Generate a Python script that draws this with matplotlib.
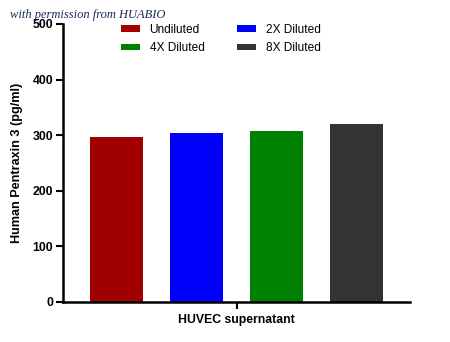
import matplotlib
matplotlib.use("Agg")
import matplotlib.pyplot as plt
from matplotlib.patches import Patch

plt.rcParams['font.family'] = ['Liberation Sans', 'DejaVu Sans']

groups = ["Undiluted", "2X Diluted", "4X Diluted", "8X Diluted"]
values = [297, 304, 307, 320]
colors = ["#a00000", "#0000ff", "#008000", "#333333"]
y_ticks = [0, 100, 200, 300, 400, 500]
x_label = "HUVEC supernatant"
y_label = "Human Pentraxin 3 (pg/ml)"

fig = plt.figure(figsize=(4.5, 3.42), dpi=100)
ax = fig.add_axes([63/450, 1 - 302/342, (410-63)/450, (302-24)/342])

pos = list(range(len(groups)))
ax.bar(pos, values, width=0.66, color=colors, edgecolor="none")

ax.set_xlim(-0.669, 3.669)
ax.set_ylim(0, 500)
ax.set_yticks(y_ticks)
ax.set_yticklabels([str(t) for t in y_ticks], fontweight="bold", fontsize=8.8)
ax.set_xticks([1.5])
ax.set_xticklabels([x_label], fontweight="bold", fontsize=8.8)
ax.set_ylabel(y_label, fontweight="bold", fontsize=9.1, labelpad=7)

for s in ["top", "right"]:
    ax.spines[s].set_visible(False)
for s in ["left", "bottom"]:
    ax.spines[s].set_linewidth(1.8)
ax.tick_params(axis="y", direction="out", length=5, width=1.5, pad=2)
ax.tick_params(axis="x", direction="out", length=5, width=1.5, pad=4)

handles = [Patch(facecolor=c, edgecolor="none") for c in colors]
order = [0, 2, 1, 3]
leg = ax.legend([handles[i] for i in order], [groups[i] for i in order],
                ncol=2, frameon=False, fontsize=8.6,
                loc="upper left", bbox_to_anchor=(0.135, 1.04),
                handlelength=1.6, handleheight=0.5, handletextpad=0.83,
                columnspacing=2.75, labelspacing=0.55)

fig.text(10/450, 1 - 18/342, "with permission from HUABIO", fontsize=9,
         style="italic", family="Liberation Serif", color="#1a2a60", va="baseline")

fig.savefig("out.png", dpi=100)
